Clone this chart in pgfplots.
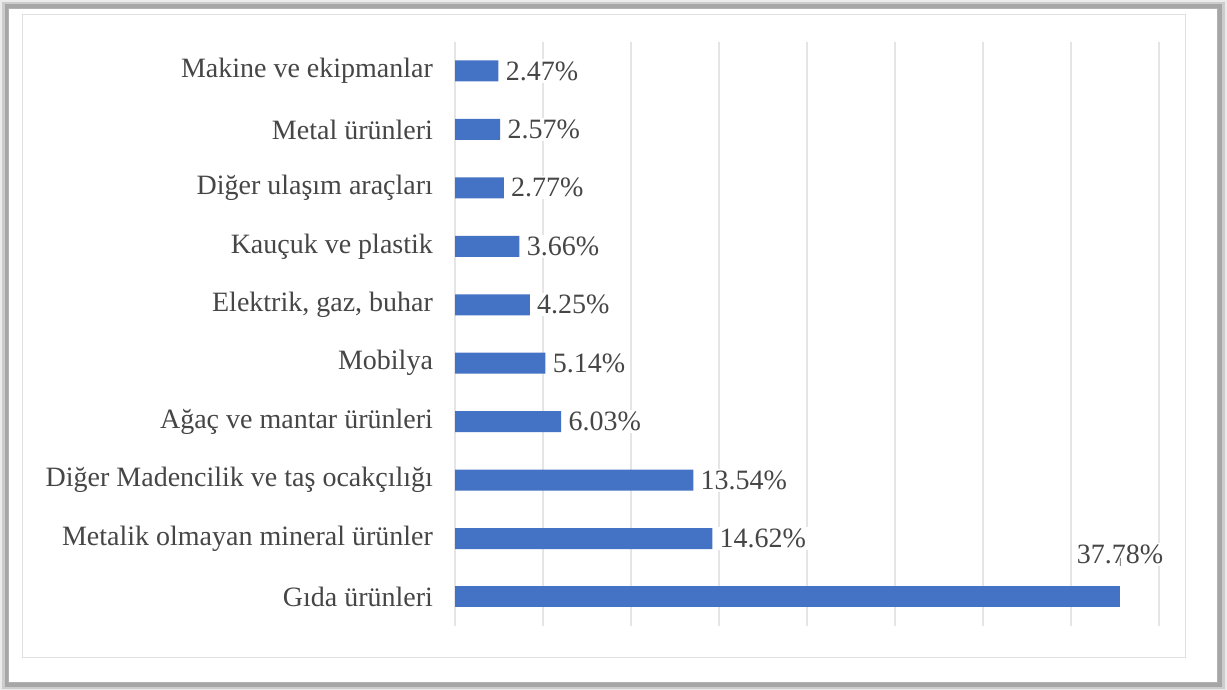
\documentclass[border=0pt]{standalone}
\usepackage{fontspec}
\setmainfont{Liberation Serif}
\usepackage{pgfplots}
\pgfplotsset{compat=1.18}
\definecolor{barblue}{RGB}{68,114,196}
\definecolor{txt}{RGB}{70,70,70}
\begin{document}
\begin{tikzpicture}
\useasboundingbox (0,0) rectangle (613.5pt,345pt);
% frame with soft shadow
\fill[black!8] (0pt,0pt) rectangle (613.5pt,345pt);
\fill[black!20] (1pt,0.5pt) rectangle (612.5pt,344pt);
\fill[black!35] (2.5pt,1.5pt) rectangle (611pt,343pt);
\fill[white,draw=black!30] (4pt,4pt) rectangle (608.5pt,341pt);
\draw[black!12] (11pt,16.5pt) rectangle (592.5pt,338pt);
\begin{axis}[
  at={(227.5pt,31.9pt)}, anchor=south west, scale only axis,
  width=352pt, height=292.2pt,
  xbar, bar width=10.5pt,
  xmin=0, xmax=40, ymin=-0.5, ymax=9.5,
  xtick={0,5,...,40}, xticklabels={},
  xmajorgrids, grid style={black!10, line width=0.6pt},
  axis line style={draw=none},
  major tick length=0pt,
  /pgf/number format/assume math mode=true,
  ytick={0,...,9},
  yticklabels={Gıda ürünleri, Metalik olmayan mineral ürünler, Diğer Madencilik ve taş ocakçılığı, Ağaç ve mantar ürünleri, Mobilya, {Elektrik, gaz, buhar}, Kauçuk ve plastik, Diğer ulaşım araçları, Metal ürünleri, Makine ve ekipmanlar},
  yticklabel style={font=\fontsize{14}{16}\selectfont, text=txt, xshift=-7.5pt},
]
\addplot[fill=barblue, draw=none, bar shift=0pt,
  nodes near coords={\pgfmathprintnumber[fixed,fixed zerofill,precision=2,assume math mode=true]{\pgfplotspointmeta}\%},
  every node near coord/.append style={font=\fontsize{14}{16}\selectfont, text=txt, fill=white, inner sep=1pt, xshift=2.5pt}]
  coordinates {(14.62,1) (13.54,2) (6.03,3) (5.14,4) (4.25,5) (3.66,6) (2.77,7) (2.57,8) (2.47,9)};
\addplot[fill=barblue, draw=none, bar shift=0pt,
  nodes near coords={\pgfmathprintnumber[fixed,fixed zerofill,precision=2,assume math mode=true]{\pgfplotspointmeta}\%},
  nodes near coords align={south},
  every node near coord/.append style={font=\fontsize{14}{16}\selectfont, text=txt, fill=white, inner sep=1pt, anchor=south, yshift=15.5pt,
    append after command={(\tikzlastnode.south) edge[draw=black!45, thin] ++(0,-10.5pt)}}]
  coordinates {(37.78,0)};
\end{axis}
\end{tikzpicture}
\end{document}
